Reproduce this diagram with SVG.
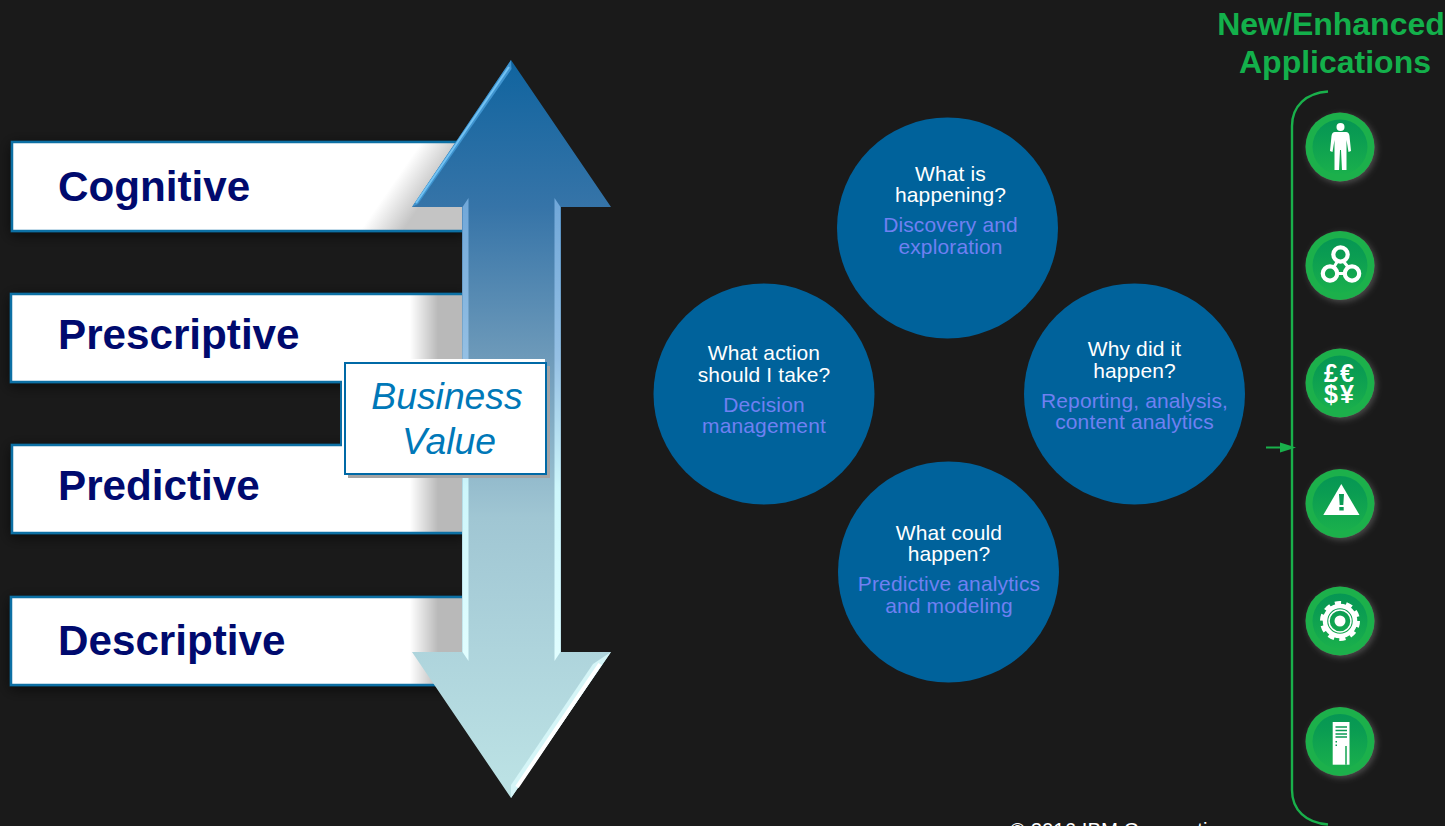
<svg xmlns="http://www.w3.org/2000/svg" width="1445" height="826" viewBox="0 0 1445 826">
<style>
text{font-family:"Liberation Sans",Arial,sans-serif}
.lvl{font-size:42.2px;font-weight:700;fill:#000a6e}
.q{font-size:21px;letter-spacing:.13px;fill:#fff;text-anchor:middle}
.a{font-size:21px;letter-spacing:.13px;fill:#6f80f2;text-anchor:middle}
.bub{fill:#00629b}
.bar{stroke:#0f6fa4;stroke-width:2.5}
.hd{font-size:32px;font-weight:700;fill:#13b04b;text-anchor:middle}
.bv{font-size:37.3px;font-style:italic;fill:#0078b8;text-anchor:middle}
.ring{fill:#1ab04c}
.inner{fill:url(#ic)}
.ico{fill:#fff}
.cut{fill:#0a9a54}
</style>
<defs>
<linearGradient id="g1" gradientUnits="userSpaceOnUse" x1="385" y1="195" x2="414" y2="215"><stop offset="0" stop-color="#fff"/><stop offset="1" stop-color="#c4c4c4"/></linearGradient>
<linearGradient id="g2" gradientUnits="userSpaceOnUse" x1="410" y1="0" x2="438" y2="0"><stop offset="0" stop-color="#fff"/><stop offset="1" stop-color="#b9b9b9"/></linearGradient>
<linearGradient id="arrow" gradientUnits="userSpaceOnUse" x1="0" y1="60" x2="0" y2="798">
<stop offset="0" stop-color="#10649f"/><stop offset=".2" stop-color="#3674a8"/><stop offset=".42" stop-color="#729dbb"/><stop offset=".62" stop-color="#a0c6d3"/><stop offset=".8" stop-color="#aed4dc"/><stop offset="1" stop-color="#bde3e5"/></linearGradient>
<linearGradient id="edge" gradientUnits="userSpaceOnUse" x1="0" y1="190" x2="0" y2="670"><stop offset="0" stop-color="#6ea6d8"/><stop offset=".35" stop-color="#95c0e4"/><stop offset=".62" stop-color="#cdf6fb"/><stop offset="1" stop-color="#e2feff"/></linearGradient>
<linearGradient id="ic" x1="0" y1="0" x2="0" y2="1"><stop offset="0" stop-color="#069654"/><stop offset=".3" stop-color="#0a9c52"/><stop offset="1" stop-color="#1ab04c"/></linearGradient>
<filter id="sh" x="-30%" y="-30%" width="160%" height="160%"><feDropShadow dx="2" dy="2" stdDeviation="3" flood-color="#9a9a9a" flood-opacity=".4"/></filter>
<filter id="dk" x="-10%" y="-40%" width="120%" height="180%"><feDropShadow dx="0" dy="3" stdDeviation="7" flood-color="#000" flood-opacity=".6"/></filter>
<filter id="soft" x="-10%" y="-10%" width="120%" height="120%"><feGaussianBlur stdDeviation=".6"/></filter>
</defs>
<rect width="1445" height="826" fill="#1a1a1a"/>

<g id="bar-cognitive"><rect class="bar" x="12" y="142" width="452" height="89" fill="url(#g1)" filter="url(#dk)"/><text class="lvl" x="58" y="201">Cognitive</text></g>
<g id="bar-prescriptive"><rect class="bar" x="11" y="294" width="453" height="88" fill="url(#g2)" filter="url(#dk)"/><text class="lvl" x="58" y="349">Prescriptive</text></g>
<g id="bar-predictive"><rect class="bar" x="12" y="445" width="452" height="88" fill="url(#g2)" filter="url(#dk)"/><text class="lvl" x="58" y="500">Predictive</text></g>
<g id="bar-descriptive"><rect class="bar" x="11" y="597" width="453" height="88" fill="url(#g2)" filter="url(#dk)"/><text class="lvl" x="58" y="655">Descriptive</text></g>

<g id="value-arrow">
<path d="M511 60 L611 207 H561 V652 H611 L511 798 L412 652 H462 V207 H412 Z" fill="url(#arrow)"/>
<path d="M462.500 207 L468.500 198 V661 L462.500 652 Z" fill="url(#edge)" filter="url(#soft)"/>
<path d="M560.500 207 L554.500 198 V661 L560.500 652 Z" fill="url(#edge)" filter="url(#soft)"/>
<path d="M511 60 L511.500 69 L418 204 L412 207 Z" fill="#3f94cf" filter="url(#soft)"/>
<path d="M509 67 L416 203" stroke="#72c2f3" stroke-width="2" fill="none" filter="url(#soft)"/>
<path d="M611 652 L593 664 L511 785 L511 798 Z" fill="#d5f5f7" filter="url(#soft)"/>
<path d="M600 664 L517 787" stroke="#fff" stroke-width="4" fill="none" filter="url(#soft)"/>
</g>

<g id="business-value">
<path d="M341 382 V445" stroke="#0f6fa4" stroke-width="2" fill="none"/>
<rect x="342" y="359" width="203" height="119" fill="#fff"/>
<rect x="348" y="366" width="202" height="112" fill="#a4a4a4"/>
<rect x="345" y="363" width="201" height="111" fill="#fff" stroke="#0069a6" stroke-width="2"/>
<text class="bv" x="447" y="409">Business</text>
<text class="bv" x="449" y="454">Value</text>
</g>

<g id="q-top"><circle class="bub" cx="947.500" cy="228" r="110.500"/><text class="q" x="950.500" y="181">What is</text><text class="q" x="950.500" y="202">happening?</text><text class="a" x="950.500" y="232">Discovery and</text><text class="a" x="950.500" y="254">exploration</text></g>
<g id="q-left"><circle class="bub" cx="764" cy="394" r="110.500"/><text class="q" x="764" y="360">What action</text><text class="q" x="764" y="382">should I take?</text><text class="a" x="764" y="412">Decision</text><text class="a" x="764" y="433">management</text></g>
<g id="q-right"><circle class="bub" cx="1134.500" cy="394" r="110.500"/><text class="q" x="1134.500" y="356">Why did it</text><text class="q" x="1134.500" y="378">happen?</text><text class="a" x="1134.500" y="408">Reporting, analysis,</text><text class="a" x="1134.500" y="429">content analytics</text></g>
<g id="q-bottom"><circle class="bub" cx="948.500" cy="572" r="110.500"/><text class="q" x="949" y="540">What could</text><text class="q" x="949" y="561">happen?</text><text class="a" x="949" y="591">Predictive analytics</text><text class="a" x="949" y="613">and modeling</text></g>

<g id="apps-title"><text class="hd" x="1331" y="35">New/Enhanced</text><text class="hd" x="1335" y="73">Applications</text></g>

<g id="connectors">
<path d="M1328 91.500 C1306 93 1292 106 1292 126 V790 C1292 810 1306 823 1328 824.500" fill="none" stroke="#19b04b" stroke-width="2.400"/>
<path d="M1266 447.500 H1282" stroke="#19b04b" stroke-width="2" fill="none"/>
<path d="M1280 442.500 L1296 447.500 L1280 452.500 Z" fill="#19b04b"/>
</g>

<g id="icon-person"><g filter="url(#sh)"><circle class="ring" cx="1340" cy="147" r="34.500"/></g><circle class="inner" cx="1340" cy="147" r="27.500"/>
<circle class="ico" cx="1340.500" cy="127" r="4"/>
<path class="ico" d="M1335 132 H1346 Q1349 132 1349.500 136 L1351 151 L1348.500 152 L1346.500 140 V170 H1342 L1341 150 H1340 L1339 170 H1334.500 V140 L1332.500 152 L1330 151 L1331.500 136 Q1332 132 1335 132 Z"/></g>

<g id="icon-network"><g filter="url(#sh)"><circle class="ring" cx="1340" cy="265.500" r="34.500"/></g><circle class="inner" cx="1340" cy="265.500" r="27.500"/>
<g fill="none" stroke="#fff" stroke-width="4.200"><circle cx="1340.500" cy="254.500" r="7.200"/><circle cx="1330" cy="273.500" r="7.200"/><circle cx="1352" cy="273.500" r="7.200"/><path d="M1337 262 L1334 267 M1344 262 L1348 267 M1337.500 273.500 H1344.500" stroke-width="3"/></g></g>

<g id="icon-currency"><g filter="url(#sh)"><circle class="ring" cx="1340" cy="383" r="34.500"/></g><circle class="inner" cx="1340" cy="383" r="27.500"/>
<text font-size="25" font-weight="700" fill="#fff" text-anchor="middle" letter-spacing="2"><tspan x="1340" y="381.500">£€</tspan><tspan x="1340" y="403">$¥</tspan></text></g>

<g id="icon-warning"><g filter="url(#sh)"><circle class="ring" cx="1340" cy="503.500" r="34.500"/></g><circle class="inner" cx="1340" cy="503.500" r="27.500"/>
<path class="ico" d="M1341.300 484 L1359.500 515 H1323.300 Z"/><path class="cut" d="M1339 494 H1344 L1343.300 505 H1339.700 Z M1339.300 507 H1343.700 V510.500 H1339.300 Z"/></g>

<g id="icon-gear"><g filter="url(#sh)"><circle class="ring" cx="1340" cy="621" r="34.500"/></g><circle class="inner" cx="1340" cy="621" r="27.500"/>
<circle cx="1340" cy="621" r="18" fill="none" stroke="#fff" stroke-width="4" stroke-dasharray="6.200 5.110"/>
<circle cx="1340" cy="621" r="15" fill="none" stroke="#fff" stroke-width="4.500"/>
<circle cx="1340" cy="621" r="11" fill="none" stroke="#fff" stroke-width="1.500"/>
<circle class="ico" cx="1340" cy="621" r="5.500"/></g>

<g id="icon-server"><g filter="url(#sh)"><circle class="ring" cx="1340" cy="741.500" r="34.500"/></g><circle class="inner" cx="1340" cy="741.500" r="27.500"/>
<rect class="ico" x="1332.700" y="722" width="16.800" height="42.700"/>
<path d="M1335.500 727 H1347 M1335.500 730.500 H1347 M1335.500 734 H1347 M1335.500 737 H1347" stroke="#0a9a54" stroke-width="1.700"/>
<path d="M1346 746 V764.700" stroke="#12a450" stroke-width="1.500"/>
<rect class="cut" x="1335.500" y="741" width="1.500" height="1.500"/><rect class="cut" x="1335.500" y="744.500" width="1.500" height="1.500"/></g>

<text id="copyright" x="1010" y="837" font-size="20.400" fill="#fff">© 2016 IBM Corporation</text>
</svg>
